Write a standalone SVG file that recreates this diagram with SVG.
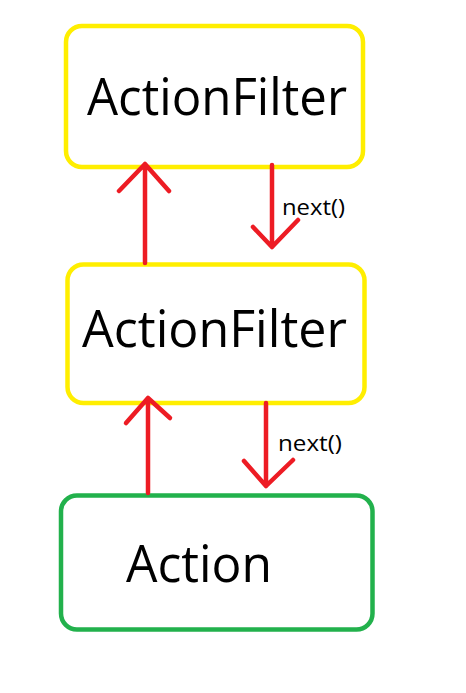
<svg xmlns="http://www.w3.org/2000/svg" width="466" height="693" viewBox="0 0 466 693">
<style>
.box{fill:#fff;stroke-width:4.5}
.yel{stroke:#ffee00}
.grn{stroke:#22b14c}
.big{font-family:"Open Sans","Liberation Sans",sans-serif;font-size:52px;fill:#000}
.lbl{font-family:"Open Sans","Liberation Sans",sans-serif;font-size:22px;fill:#000}
.arr{stroke:#ed1c24;stroke-width:4.5;fill:none;stroke-linecap:round;stroke-linejoin:round}
</style>
<rect width="466" height="693" fill="#fff"/>
<g id="filter1">
<rect class="box yel" x="66" y="26" width="297" height="141" rx="16"/>
<text class="big" x="87" y="115" textLength="260" lengthAdjust="spacingAndGlyphs">ActionFilter</text>
</g>
<g id="filter2">
<rect class="box yel" x="67.5" y="264.5" width="297" height="138.5" rx="16"/>
<text class="big" x="82" y="347" textLength="265" lengthAdjust="spacingAndGlyphs">ActionFilter</text>
</g>
<g id="action">
<rect class="box grn" x="61" y="495.5" width="311.5" height="134" rx="16"/>
<text class="big" x="126" y="582" textLength="146" lengthAdjust="spacingAndGlyphs">Action</text>
</g>
<g id="connectors">
<path class="arr" d="M145 263V164M119 191L145 164L169 191"/>
<path class="arr" d="M272 165V247M253 227L272 247L298 220"/>
<text class="lbl" x="282" y="215" textLength="63" lengthAdjust="spacingAndGlyphs">next()</text>
<path class="arr" d="M148 493V398M126 423L148 398L170 418"/>
<path class="arr" d="M266 403V486M244 461L266 486L293 460"/>
<text class="lbl" x="278" y="451" textLength="64" lengthAdjust="spacingAndGlyphs">next()</text>
</g>
</svg>
